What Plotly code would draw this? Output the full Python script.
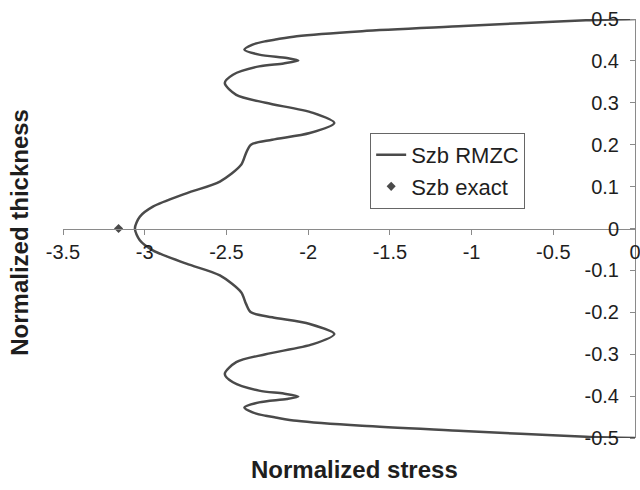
import plotly.graph_objects as go

# Normalized through-thickness coordinate (top surface to bottom surface)
thickness = [0.500, 0.497, 0.490, 0.483, 0.471, 0.459, 0.451, 0.447, 0.439, 0.427,
             0.415, 0.407, 0.401, 0.394, 0.387, 0.367, 0.347, 0.319, 0.300, 0.276,
             0.252, 0.228, 0.212, 0.200, 0.180, 0.152, 0.112, 0.084, 0.052, 0.028,
             0.000,
             -0.028, -0.052, -0.084, -0.112, -0.152, -0.180, -0.200, -0.212, -0.228,
             -0.252, -0.276, -0.300, -0.319, -0.347, -0.367, -0.387, -0.394, -0.401,
             -0.407, -0.415, -0.427, -0.439, -0.447, -0.451, -0.459, -0.471, -0.483,
             -0.490, -0.497, -0.500]

# Szb stress from the RMZC model at each thickness coordinate
stress_rmzc = [0.00, -0.30, -0.70, -1.05, -1.67, -2.07, -2.20, -2.26, -2.34, -2.39,
               -2.30, -2.13, -2.06, -2.15, -2.30, -2.46, -2.51, -2.44, -2.26, -1.97,
               -1.84, -1.99, -2.22, -2.35, -2.38, -2.41, -2.54, -2.745, -2.95, -3.03,
               -3.06,
               -3.03, -2.95, -2.745, -2.54, -2.41, -2.38, -2.35, -2.22, -1.99,
               -1.84, -1.97, -2.26, -2.44, -2.51, -2.46, -2.30, -2.15, -2.06,
               -2.13, -2.30, -2.39, -2.34, -2.26, -2.20, -2.07, -1.67, -1.05,
               -0.70, -0.30, 0.00]

# Exact Szb value at the mid-plane
exact_stress = [-3.16]
exact_thickness = [0.0]

x_ticks = [-3.5, -3.0, -2.5, -2.0, -1.5, -1.0, -0.5, 0.0]
x_tick_text = ["-3.5", "-3", "-2.5", "-2", "-1.5", "-1", "-0.5", "0"]
y_ticks = [-0.5, -0.4, -0.3, -0.2, -0.1, 0.0, 0.1, 0.2, 0.3, 0.4, 0.5]
y_tick_text = ["-0.5", "-0.4", "-0.3", "-0.2", "-0.1", "0", "0.1", "0.2", "0.3", "0.4", "0.5"]

FONT = "Liberation Sans, Arial, sans-serif"
LINE_GREY = "#4a4a4a"
AXIS_GREY = "#8a8a8a"
TEXT = "#1e1e1e"

fig = go.Figure()
fig.add_trace(go.Scatter(
    x=stress_rmzc, y=thickness, mode="lines", name="Szb RMZC",
    line=dict(color=LINE_GREY, width=2.5, shape="spline", smoothing=0.8),
))
fig.add_trace(go.Scatter(
    x=exact_stress, y=exact_thickness, mode="markers", name="Szb exact",
    marker=dict(symbol="diamond", size=7, color=LINE_GREY),
))

fig.update_layout(
    width=640, height=490,
    margin=dict(l=63, r=5, t=19, b=52, autoexpand=False),
    paper_bgcolor="white", plot_bgcolor="white",
    font=dict(family=FONT, color=TEXT, size=20),
    showlegend=True,
    legend=dict(
        x=0.537, y=0.728, xanchor="left", yanchor="top",
        bgcolor="white", bordercolor="#666666", borderwidth=1,
        font=dict(family=FONT, size=22, color=TEXT),
        tracegroupgap=0, itemwidth=30,
    ),
    xaxis=dict(
        range=[-3.5, 0], anchor="free", position=0.5,
        showline=True, linecolor=AXIS_GREY, linewidth=1,
        ticks="outside", ticklen=5, tickcolor=AXIS_GREY,
        tickvals=x_ticks, ticktext=x_tick_text,
        ticklabeloverflow="allow", automargin=False,
        showgrid=False, zeroline=False,
        tickfont=dict(family=FONT, size=20, color=TEXT),
    ),
    yaxis=dict(
        range=[-0.5, 0.5], anchor="free", position=1.0, side="left",
        showline=True, linecolor=AXIS_GREY, linewidth=1,
        ticks="outside", ticklen=5, tickcolor=AXIS_GREY,
        tickvals=y_ticks, ticktext=y_tick_text,
        ticklabelstandoff=7, automargin=False,
        showgrid=False, zeroline=False,
        tickfont=dict(family=FONT, size=20, color=TEXT),
    ),
    annotations=[
        dict(text="<b>Normalized stress</b>", xref="paper", yref="paper",
             x=0.509, y=-0.075, xanchor="center", yanchor="middle",
             showarrow=False, font=dict(family=FONT, size=24, color=TEXT)),
        dict(text="<b>Normalized thickness</b>", xref="paper", yref="paper",
             x=-0.075, y=0.49, xanchor="center", yanchor="middle", textangle=-90,
             showarrow=False, font=dict(family=FONT, size=24, color=TEXT)),
    ],
)

fig.write_html("out.html")
